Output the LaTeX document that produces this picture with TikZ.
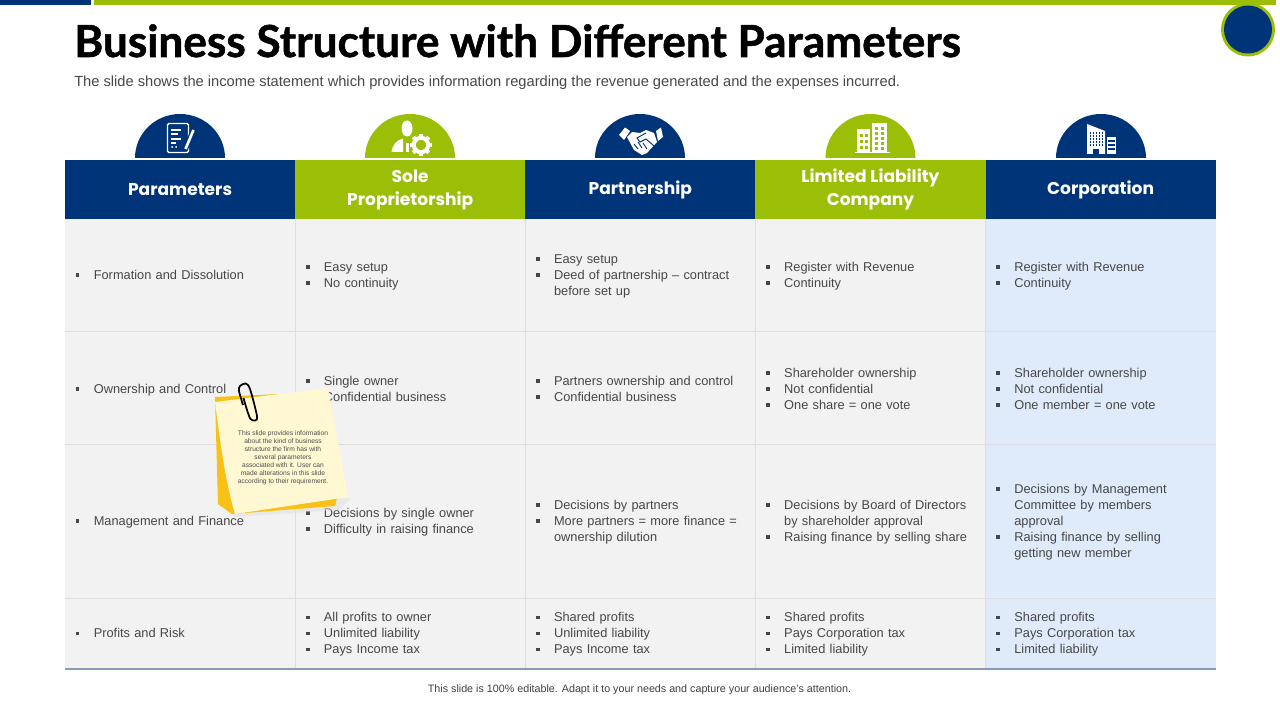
\documentclass[tikz,border=0pt]{standalone}
\usepackage{fontspec}
\setmainfont{Liberation Sans}
\newfontfamily\titlefont{Poppins}
\newfontfamily\maintitlefont[BoldFeatures={FakeBold=1.2}]{Lato}
\usetikzlibrary{positioning}
\definecolor{navy}{HTML}{003478}
\definecolor{leaf}{HTML}{9BBE06}
\definecolor{cellgray}{HTML}{F2F2F2}
\definecolor{cellblue}{HTML}{DFEBFB}
\definecolor{gridline}{HTML}{DEDEDE}
\definecolor{rulecol}{HTML}{7F9DB9}
\definecolor{notepale}{HTML}{FFF8D2}
\definecolor{noteback}{HTML}{F9C116}
\newcommand{\hstrut}{\rule[-2.8pt]{0pt}{14pt}}
\newcommand{\cstrut}{\rule[-2.6pt]{0pt}{11.6pt}}
\tikzstyle{head}=[minimum width=172.6pt,minimum height=44.25pt,inner sep=0pt,outer sep=0pt,
text=white,align=center,font={\titlefont\fontsize{12.8}{17.3}\selectfont\bfseries},
execute at begin node={\hstrut},execute at end node={\hstrut}]
\tikzstyle{headblue}=[head,fill=navy]
\tikzstyle{headgreen}=[head,fill=leaf]
\tikzstyle{cell}=[fill=cellgray,minimum width=172.6pt,text width=156.6pt,
inner xsep=8pt,inner ysep=0pt,outer sep=0pt,align=left,text=black!72,font={\fontsize{9.6}{12}\selectfont},
execute at begin node={\cstrut},execute at end node={\cstrut}]
\tikzstyle{cellb}=[cell,fill=cellblue]
\tikzstyle{dome}=[fill=navy]
\tikzstyle{domeg}=[fill=leaf]
\tikzstyle{grid}=[gridline,line width=0.6pt]
\newcommand{\itm}[1]{\makebox[13.6pt][l]{\rule[1.8pt]{2.8pt}{2.8pt}}#1}
\newcommand{\cnt}[1]{\hspace*{13.6pt}#1}
\begin{document}
\begin{tikzpicture}[x=0.75pt,y=-0.75pt]
\useasboundingbox (0,0) rectangle (1280,720);

\fill[navy] (0,0) rectangle (91,5);
\fill[leaf] (94,0) rectangle (1276,5);
\fill[leaf] (1248,29.5) circle (27);
\fill[navy] (1248,29.5) circle (24);

\node[anchor=base west,inner sep=0pt,font={\maintitlefont\fontsize{33.1}{36}\selectfont\bfseries}] (title) at (74,57)
{Business Structure with Different Parameters};
\node[anchor=base west,inner sep=0pt,text=black!72,font={\fontsize{11}{13}\selectfont}] (subtitle) at (74,87)
{The slide shows the income statement which provides information regarding the revenue generated and the expenses incurred.};

\foreach \cx/\st in {180/dome,410/domeg,640/dome,870.5/domeg,1101/dome}
  \fill[\st] (\cx-45,158) arc (180:360:45 and 44) -- cycle;

\node[headblue,anchor=north west] (parm) at (65,160) {Parameters};
\node[headgreen] (sole) [right=0pt of parm] {Sole\\Proprietorship};
\node[headblue] (part) [right=0pt of sole] {Partnership};
\node[headgreen] (llc) [right=0pt of part] {Limited Liability\\Company};
\node[headblue] (corp) [right=0pt of llc] {Corporation};

\tikzset{rowa/.style={minimum height=84pt},rowb/.style={minimum height=84.75pt,execute at begin node={\rule[-2.6pt]{0pt}{13.6pt}}},
rowc/.style={minimum height=115.5pt},rowd/.style={minimum height=53.25pt}}

\node[cell,rowa] (parma) [below=0pt of parm] {\itm{Formation and Dissolution}};
\node[cell,rowa] (solea) [below=0pt of sole] {\itm{Easy setup}\\\itm{No continuity}};
\node[cell,rowa] (parta) [below=0pt of part] {\itm{Easy setup}\\\itm{Deed of partnership -- contract}\\\cnt{before set up}};
\node[cell,rowa] (llca) [below=0pt of llc] {\itm{Register with Revenue}\\\itm{Continuity}};
\node[cellb,rowa] (corpa) [below=0pt of corp] {\itm{Register with Revenue}\\\itm{Continuity}};

\node[cell,rowb] (parmb) [below=0pt of parma] {\itm{Ownership and Control}};
\node[cell,rowb] (soleb) [below=0pt of solea] {\itm{Single owner}\\\itm{Confidential business}};
\node[cell,rowb] (partb) [below=0pt of parta] {\itm{Partners ownership and control}\\\itm{Confidential business}};
\node[cell,rowb] (llcb) [below=0pt of llca] {\itm{Shareholder ownership}\\\itm{Not confidential}\\\itm{One share = one vote}};
\node[cellb,rowb] (corpb) [below=0pt of corpa] {\itm{Shareholder ownership}\\\itm{Not confidential}\\\itm{One member = one vote}};

\node[cell,rowc] (parmc) [below=0pt of parmb] {\itm{Management and Finance}};
\node[cell,rowc] (solec) [below=0pt of soleb] {\itm{Decisions by single owner}\\\itm{Difficulty in raising finance}};
\node[cell,rowc] (partc) [below=0pt of partb] {\itm{Decisions by partners}\\\itm{More partners = more finance =}\\\cnt{ownership dilution}};
\node[cell,rowc] (llcc) [below=0pt of llcb] {\itm{Decisions by Board of Directors}\\\cnt{by shareholder approval}\\\itm{Raising finance by selling share}};
\node[cellb,rowc] (corpc) [below=0pt of corpb] {\itm{Decisions by Management}\\\cnt{Committee by members}\\\cnt{approval}\\\itm{Raising finance by selling}\\\cnt{getting new member}};

\node[cell,rowd] (parmd) [below=0pt of parmc] {\itm{Profits and Risk}};
\node[cell,rowd] (soled) [below=0pt of solec] {\itm{All profits to owner}\\\itm{Unlimited liability}\\\itm{Pays Income tax}};
\node[cell,rowd] (partd) [below=0pt of partc] {\itm{Shared profits}\\\itm{Unlimited liability}\\\itm{Pays Income tax}};
\node[cell,rowd] (llcd) [below=0pt of llcc] {\itm{Shared profits}\\\itm{Pays Corporation tax}\\\itm{Limited liability}};
\node[cellb,rowd] (corpd) [below=0pt of corpc] {\itm{Shared profits}\\\itm{Pays Corporation tax}\\\itm{Limited liability}};

\draw[grid] (parma.south west) -- (corpa.south east);
\draw[grid] (parmb.south west) -- (corpb.south east);
\draw[grid] (parmc.south west) -- (corpc.south east);
\draw[grid] (parma.north east) -- (parmd.south east);
\draw[grid] (solea.north east) -- (soled.south east);
\draw[grid] (parta.north east) -- (partd.south east);
\draw[grid] (llca.north east) -- (llcd.south east);
\draw[rulecol,line width=1.2pt] (parmd.south west) -- (corpd.south east);

\node[text=black!75,font={\fontsize{8.05}{9}\selectfont}] (foot) at (639.5,690)
{This slide is 100\% editable. Adapt it to your needs and capture your audience's attention.};

% document icon
\draw[white,line width=1pt,rounded corners=1pt] (167.5,123.5) rectangle (188.5,152.5);
\foreach \ly/\lx in {130/181,134/178,139/181,143/176}
  \draw[white,line width=0.9pt] (171,\ly) -- (\lx,\ly);
\fill[white] (172,147) circle (1) (176,147) circle (1);
\draw[navy,line width=4pt] (193.5,130) -- (185,150);
\draw[white,line width=2pt] (193.5,130) -- (185.5,149);

% person and gear icon
\fill[white] (407,128.5) ellipse (5.5 and 8);
\fill[white] (403,138.5) .. controls (396,140) and (392,146) .. (391.5,152) -- (403,152) -- cycle;
\fill[white] (405.5,143) rectangle (409,152);
\foreach \a in {0,45,...,315}
  \fill[white,rotate around={\a:(421,145)}] (419,134) rectangle (423,138);
\draw[white,line width=3pt] (421,145) circle (7.2);

% handshake icon
\fill[white] (619,135) -- (625,127.5) -- (630,131) -- (624,140) -- cycle;
\fill[white] (656,131) -- (661,127.5) -- (663,137) -- (658,141) -- cycle;
\fill[white] (627,137) -- (632,132) -- (640,133) -- (646,130) -- (654,133) -- (657,142)
 -- (647,153) -- (642,155) -- (634,150) -- cycle;
\draw[navy,line width=0.7pt] (646,133) -- (637,138) -- (640,142) -- (646,139) -- (654,146)
 (634,144) -- (638,149) (638,142) -- (642,148) (643,143) -- (647,149);

% two towers icon
\fill[white] (857,129.5) rectangle (870,152);
\fill[white] (872,123) rectangle (887,152);
\fill[white] (855,152) rectangle (890,153.5);
\foreach \wx in {860,865}
  \foreach \wy in {134,140,146}
    \fill[leaf] (\wx,\wy) rectangle ++(3,3);
\foreach \wx in {875,881}
  \foreach \wy in {127,132,137,142,147}
    \fill[leaf] (\wx,\wy) rectangle ++(3,3);

% office block icon
\fill[white] (1087,124) -- (1105,131) -- (1105,154) -- (1087,154) -- cycle;
\fill[white] (1106.5,137) rectangle (1116,154);
\foreach \wx in {1089.5,1092.5,...,1102}
  \foreach \wy in {132,135,...,144}
    \fill[navy] (\wx,\wy) rectangle ++(1.8,1.8);
\foreach \wy in {140,144,148}
  \fill[navy] (1108,\wy) rectangle ++(6.5,1.8);
\fill[navy] (1093,149) rectangle (1099,154);

% sticky note
\fill[black!12,opacity=0.5] (221,505) -- (235,517) -- (340,510) -- (350,498) -- cycle;
\fill[noteback] (215,397) -- (280,394) -- (337,498) -- (335,506) -- (232,514) -- (218,504) -- cycle;
\fill[notepale] (215,402) -- (328,388) -- (348,497) -- (235,514) .. controls (225,480) and (220,440) .. (215,402) -- cycle;
\draw[black,line width=1.3pt] plot[smooth] coordinates {(243.5,398) (247,410) (250.5,419) (255,420.5) (257,416) (250,389) (245.5,383.5) (240,386) (239,391) (243,405)};
\node[align=center,text=black!70,font={\fontsize{5}{6}\selectfont}] (note) at (283,457.5)
{This slide provides information\\about the kind of business\\structure the firm has with\\several parameters\\associated with it. User can\\made alterations in this slide\\according to their requirement.};
\end{tikzpicture}
\end{document}
